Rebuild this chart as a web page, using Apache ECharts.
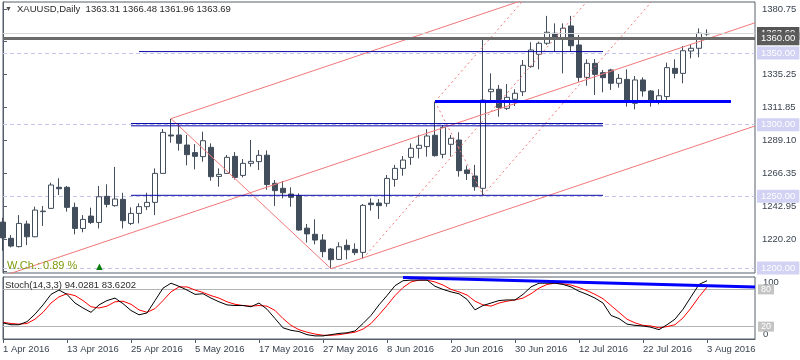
<!DOCTYPE html>
<html><head><meta charset="utf-8">
<script src="https://cdn.jsdelivr.net/npm/echarts@6/dist/echarts.min.js"></script>
<style>html,body{margin:0;padding:0;background:#fff}#c{width:800px;height:360px}</style>
</head><body><div id="c"></div>
<script>
// ---- data ----
const tickLabels = ['1 Apr 2016','13 Apr 2016','25 Apr 2016','5 May 2016','17 May 2016','27 May 2016','8 Jun 2016','20 Jun 2016','30 Jun 2016','12 Jul 2016','22 Jul 2016','3 Aug 2016'];
const priceTicks = [1380.75, 1358.00, 1335.25, 1311.85, 1289.10, 1266.35, 1242.95, 1220.20, 1197.45];
const opens  = [1232,1220.7,1214.9,1230.7,1221.8,1239.3,1241.6,1256.3,1256.3,1242.3,
                1227.6,1236.2,1231.8,1250.0,1243.5,1247.9,1231.1,1238.1,1242.8,1245.8,
                1266.0,1292.8,1292.8,1285.8,1280.5,1277.7,1284.2,1263.9,1266.0,1277.9,
                1264.6,1273.0,1274.2,1278.7,1259.1,1255.6,1251.6,1250.5,1227.8,1223.5,
                1219.5,1213.2,1206.0,1215.8,1213.0,1210.9,1245.3,1245.3,1245.1,1261.8,
                1269.5,1277.2,1283.5,1284.7,1292.6,1279.3,1286.3,1289.3,1268.4,1264.2,
                1255.6,1323.0,1324.7,1311.4,1317.7,1323.0,1340.5,1349.1,1356.8,1363.8,
                1359.6,1368.9,1355.6,1333.0,1342.8,1336.3,1338.2,1328.9,1331.6,1314.9,
                1331.2,1323.5,1315.6,1319.6,1339.3,1335.8,1351.4,1353.3,1363.31];
const highs  = [1235,1223.0,1236.9,1233.0,1242.8,1243.2,1259.5,1262.6,1257.2,1245.6,
                1236.9,1242.1,1257.2,1258.4,1270.5,1252.5,1242.3,1245.1,1252.5,1269.5,
                1297.0,1304.2,1301.0,1292.8,1286.5,1295.1,1287.0,1269.5,1278.8,1280.9,
                1276.0,1289.3,1282.3,1282.0,1261.4,1260.7,1256.3,1252.1,1230.7,1234.0,
                1223.6,1213.9,1217.9,1219.9,1217.2,1244.6,1248.6,1248.1,1264.9,1271.9,
                1278.1,1286.9,1292.8,1296.8,1316.1,1299.8,1292.8,1294.7,1271.4,1271.9,
                1359.1,1335.8,1327.7,1328.4,1324.7,1345.1,1357.5,1357.9,1375.9,1370.7,
                1370.7,1375.9,1362.6,1345.6,1345.8,1338.2,1339.0,1335.4,1338.6,1334.0,
                1333.0,1324.2,1324.7,1343.3,1345.6,1354.9,1355.6,1367.2,1366.48];
const lows   = [1212,1214.4,1214.4,1216.0,1221.5,1229.3,1241.2,1250.9,1239.3,1223.5,
                1224.9,1230.7,1227.6,1242.3,1242.8,1227.6,1230.0,1231.1,1240.4,1236.9,
                1265.6,1287.4,1281.9,1271.6,1268.8,1274.2,1260.9,1256.7,1265.6,1261.8,
                1263.2,1270.7,1268.4,1254.6,1243.3,1248.6,1242.8,1226.0,1217.7,1216.5,
                1207.5,1199.5,1205.5,1206.0,1209.0,1206.7,1240.0,1234.2,1242.8,1256.7,
                1264.4,1271.9,1276.5,1277.7,1277.7,1276.5,1277.7,1263.7,1261.4,1253.9,
                1250.9,1317.2,1305.6,1310.2,1313.0,1320.0,1339.8,1338.6,1355.6,1350.9,
                1335.8,1350.9,1330.0,1327.2,1320.7,1322.6,1324.2,1325.8,1312.6,1310.7,
                1319.6,1312.6,1314.2,1317.2,1332.3,1328.9,1346.3,1347.0,1361.96];
const closes = [1221,1215.3,1231.1,1221.8,1240.4,1239.7,1257.9,1255.3,1242.3,1227.6,
                1233.9,1231.8,1249.7,1244.4,1248.1,1233.0,1238.1,1242.8,1245.8,1266.0,
                1294.6,1292.1,1287.0,1279.1,1277.9,1288.8,1263.7,1265.3,1277.2,1263.2,
                1273.0,1274.4,1278.6,1258.2,1254.0,1252.5,1249.3,1226.5,1223.8,1219.5,
                1211.4,1205.8,1214.8,1212.7,1210.7,1243.7,1244.2,1243.5,1262.5,1269.5,
                1275.3,1283.5,1285.6,1292.1,1278.4,1298.1,1290.5,1267.9,1266.0,1256.7,
                1317.2,1324.7,1311.9,1319.1,1321.9,1341.4,1352.1,1356.8,1364.5,1360.7,
                1367.3,1355.1,1333.0,1342.8,1335.1,1332.8,1328.9,1332.3,1316.1,1331.2,
                1323.5,1315.6,1320.2,1339.8,1335.8,1351.6,1353.3,1363.8,1363.69];
const stochK = [26,23,23,28,40,55,72,79,72,58, 50,43,55,62,66,57,46,39,42,62,
                82,90,85,79,72,73,66,60,55,54, 54,52,58,48,33,18,14,12,7,5,
                5,7,9,10,13,25,38,55,70,86, 94,95,95,95,85,80,76,73,64,47,
                54,58,62,63,63,72,84,90,90,90, 88,84,77,72,66,58,38,33,24,22,
                21,19,15,23,32,48,68,88,94.03];
const stochD = [27,25,24,25,32,43,58,68,73,70, 62,52,50,53,60,61,56,47,43,49,
                62,76,84,84,79,75,70,66,60,56, 54,53,54,53,46,33,22,15,11,8,
                6,6,7,9,11,16,25,39,54,70, 83,92,95,95,92,87,80,76,71,61,
                55,53,58,61,63,66,73,82,88,90, 89,87,83,78,72,65,54,43,32,26,
                22,21,18,20,23,34,50,68,83.62];
// drawn objects as [barIndex, price]
const chanUpper  = [[21,1304.2],[94,1441.4]];
const chanMiddle = [[0,1194.4],[94,1371.1]];
const chanLower  = [[41,1199.5],[94,1299.1]];
const fallLine   = [[21,1304.2],[41,1199.5]];
const pfHandle   = [[54,1316.1],[60,1250.9]];
const pfMedian   = [[45,1206.7],[73.0,1386.0]];
const pfUpper    = [[54,1316.1],[65.0,1386.5]];
const pfLower    = [[60,1250.9],[81.1,1386.0]];
const res1351    = [[17,1351.0],[75,1351.0]];
const lvl1300a   = [[16,1300.8],[75,1300.8]];
const lvl1300b   = [[16,1299.2],[75,1299.2]];
const lvl1250    = [[16,1250.7],[75,1250.7]];
const sup1316    = [[54,1316.1],[91,1316.1]];
const stochTrend = [[50,99],[94,84]];
const gridLevels = [1350, 1300, 1250, 1200];
const bidPrice = 1363.69, hLine = 1360.00;

// categories: trading days from 1 Apr 2016 plus empty right margin
const months = ['Jan','Feb','Mar','Apr','May','Jun','Jul','Aug','Sep','Oct','Nov','Dec'];
const categories = [];
(function(){
  const d = new Date(Date.UTC(2016,3,1));
  while (categories.length < opens.length) {
    const wd = d.getUTCDay();
    if (wd !== 0 && wd !== 6) categories.push(d.getUTCDate()+' '+months[d.getUTCMonth()]+' 2016');
    d.setUTCDate(d.getUTCDate()+1);
  }
  for (let k = 0; k < 6; k++) categories.push('_' + k);
})();
const ohlc = opens.map((o,i)=>[o, closes[i], lows[i], highs[i]]);

const FONT = 'Liberation Sans';
const DARK = '#434e5c';
const FRAME = '#56606c';
const RED = '#f07878';
const BLUE = '#0808a8';
const TXT = '#3a4450';
const tickFn = (i) => i % 8 === 0 && i <= 88;

function seg(data, color, width, type, xi, yi, z) {
  return {type:'line', xAxisIndex:xi===undefined?2:xi, yAxisIndex:yi===undefined?0:yi, data:data,
    symbol:'none', silent:true, clip:true, z:z||4,
    lineStyle:{color:color, width:width, type:type||'solid'}};
}

const chart = echarts.init(document.getElementById('c'), null, {renderer:'canvas'});
const option = {
  animation:false,
  textStyle:{fontFamily:FONT},
  grid:[
    {left:3, right:45, top:2, height:271, show:true, borderColor:FRAME, borderWidth:1, backgroundColor:'transparent'},
    {left:3, right:45, top:277, height:62, show:true, borderColor:FRAME, borderWidth:1, backgroundColor:'transparent'}
  ],
  xAxis:[
    {type:'category', gridIndex:0, data:categories, boundaryGap:false, axisLine:{show:false}, axisTick:{show:false}, axisLabel:{show:false}, splitLine:{show:false}},
    {type:'category', gridIndex:1, data:categories, boundaryGap:false,
      axisLine:{show:true, lineStyle:{color:FRAME}},
      axisTick:{show:true, interval:tickFn, length:4, lineStyle:{color:FRAME}},
      axisLabel:{interval:tickFn, formatter:(v,i)=>tickLabels[i/8], align:'left', color:TXT, fontSize:9.5, fontFamily:FONT, margin:5},
      splitLine:{show:false}},
    {type:'value', gridIndex:0, min:0, max:94, show:false},
    {type:'value', gridIndex:1, min:0, max:94, show:false}
  ],
  yAxis:[
    {type:'value', gridIndex:0, position:'right', min:1196.5, max:1385.6, scale:true,
      splitLine:{show:false}, axisLine:{show:true, lineStyle:{color:FRAME}},
      axisTick:{show:true, length:4, customValues:priceTicks, lineStyle:{color:FRAME}},
      axisLabel:{customValues:priceTicks, formatter:v=>Number(v).toFixed(2), color:TXT, fontSize:9.5, fontFamily:FONT, margin:7}},
    {type:'value', gridIndex:1, position:'right', min:0, max:100,
      splitLine:{show:false}, axisLine:{show:true, lineStyle:{color:FRAME}},
      axisTick:{show:false},
      axisLabel:{customValues:[100], verticalAlign:'top', color:TXT, fontSize:9.5, fontFamily:FONT, margin:8}},
    {type:'value', gridIndex:1, position:'right', min:0, max:100,
      splitLine:{show:false}, axisLine:{show:false}, axisTick:{show:false},
      axisLabel:{customValues:[0], verticalAlign:'bottom', color:TXT, fontSize:9.5, fontFamily:FONT, margin:8}}
  ],
  series:[
    {type:'line', xAxisIndex:2, yAxisIndex:0, data:[[0,1300],[1,1300]], symbol:'none', silent:true, z:1,
      lineStyle:{opacity:0},
      markLine:{symbol:'none', silent:true, z:1, animation:false,
        data: gridLevels.map(v=>({yAxis:v, lineStyle:{color:'#c4c4ee', width:1, type:[4,3]},
          label:{show:true, position:'end', distance:2, formatter:Number(v).toFixed(2), color:'#fff', backgroundColor:'#d2d2f4', padding:[2,4,1,4], fontSize:9.5, fontFamily:FONT}}))}},
    {type:'candlestick', xAxisIndex:0, yAxisIndex:0, data:ohlc, barWidth:5, clip:true, z:3,
      itemStyle:{color:'#ffffff', color0:DARK, borderColor:DARK, borderColor0:DARK, borderWidth:1},
      markLine:{symbol:'none', silent:true, animation:false, z:6,
        data:[
          {yAxis:bidPrice, lineStyle:{color:'#d8d8d8', width:1, type:'solid'},
            label:{show:true, position:'end', distance:2, formatter:bidPrice.toFixed(2), color:'#fff', backgroundColor:'#555', padding:[2,4,1,4], fontSize:9.5, fontFamily:FONT}},
          {yAxis:hLine, lineStyle:{color:'#6b6b6b', width:3, type:'solid'},
            label:{show:true, position:'end', distance:2, formatter:hLine.toFixed(2), color:'#fff', backgroundColor:'#5c5c5c', padding:[2,4,1,4], fontSize:9.5, fontFamily:FONT}}
        ]}},
    seg(chanUpper, RED, 1),
    seg(chanMiddle, RED, 1),
    seg(chanLower, RED, 1),
    seg(fallLine, RED, 1),
    seg(pfHandle, RED, 1, [2,3]),
    seg(pfMedian, RED, 1, [2,3]),
    seg(pfUpper, RED, 1, [2,3]),
    seg(pfLower, RED, 1, [2,3]),
    seg(res1351, BLUE, 1),
    seg(lvl1300a, BLUE, 1),
    seg(lvl1300b, BLUE, 1),
    seg(lvl1250, BLUE, 1),
    seg(sup1316, '#0000ff', 3),
    {type:'line', xAxisIndex:1, yAxisIndex:1, data:stochK, symbol:'none', silent:true, z:4,
      lineStyle:{color:'#000', width:1},
      markLine:{symbol:'none', silent:true, animation:false, z:2,
        data:[80,20].map(v=>({yAxis:v, lineStyle:{color:'#b4b4b4', width:1, type:'solid'},
          label:{show:true, position:'end', distance:3, formatter:String(v), color:'#fff', backgroundColor:'#c4c4c4', padding:[1,3,0,3], fontSize:9, fontFamily:FONT}}))}},
    {type:'line', xAxisIndex:1, yAxisIndex:1, data:stochD, symbol:'none', silent:true, z:3,
      lineStyle:{color:'#ff0000', width:1}},
    seg(stochTrend, '#0000ff', 3, 'solid', 3, 1, 5)
  ],
  graphic:[
    {type:'text', left:5, top:6, z:10, style:{text:'▼', font:'7px '+FONT, fill:'#4a4a4a'}},
    {type:'text', left:17, top:4, z:10, style:{text:'XAUUSD,Daily  1363.31 1366.48 1361.96 1363.69', font:'9.5px '+FONT, fill:'#2a2a2a'}},
    {type:'text', left:7, top:260, z:10, style:{text:'W.Ch.: 0.89 %', font:'11px '+FONT, fill:'#7d9c0c'}},
    {type:'text', left:94, top:261, z:10, style:{text:'▲', font:'11px '+FONT, fill:'#0b7d0b'}},
    {type:'text', left:5, top:280, z:10, style:{text:'Stoch(14,3,3) 94.0281 83.6202', font:'9.5px '+FONT, fill:'#2a2a2a'}}
  ]
};
chart.setOption(option);
</script>
</body></html>
